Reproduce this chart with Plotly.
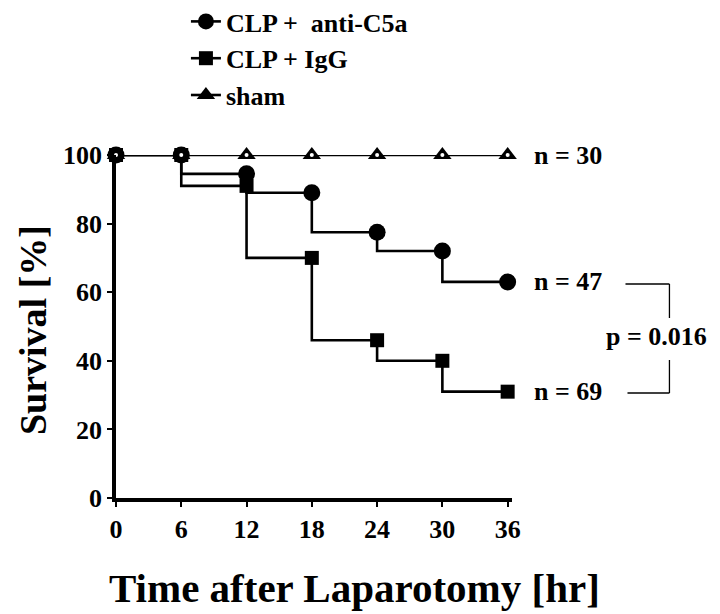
import plotly.graph_objects as go

# ---- data ----
time_hr = [0, 6, 12, 18, 24, 30, 36]
# survival shown by the markers at each time point (value just before any drop)
anti_c5a = [100, 100, 94.5, 89, 77.5, 72, 63]
igg = [100, 100, 91, 70, 46, 40, 31]
sham = [100, 100, 100, 100, 100, 100, 100]
series_names = ["CLP +  anti-C5a", "CLP + IgG", "sham"]
n_labels = ["n = 47", "n = 69", "n = 30"]
p_label = "p = 0.016"
x_ticks = [0, 6, 12, 18, 24, 30, 36]
y_ticks = [0, 20, 40, 60, 80, 100]
x_title = "Time after Laparotomy [hr]"
y_title = "Survival [%]"

FONT = "Liberation Serif"
BLACK = "black"

# the page body adds an 8px offset; the figure is sized to fill the rest of the window
OFF = 8
FIG_W, FIG_H = 720 - OFF, 614 - OFF
L, PW, T, PH = 116, 396.4, 155, 343.0  # plot area in window pixels
B = T + PH


def step_values(marker_vals):
    # value after the drop at each time point
    return marker_vals[1:] + [marker_vals[-1]]


def px(xp):
    return (xp - L) / PW


def py(yp):
    return (B - yp) / PH


styles = [
    dict(symbol="circle", size=17, color=BLACK, line=dict(color=BLACK, width=0)),
    dict(symbol="square", size=14, color=BLACK, line=dict(color=BLACK, width=0)),
    dict(symbol="triangle-up", size=16, color=BLACK, line=dict(color=BLACK, width=0)),
]
all_series = [anti_c5a, igg, sham]

fig = go.Figure()
for vals, name, st in zip(all_series, series_names, styles):
    fig.add_trace(go.Scatter(
        x=time_hr, y=step_values(vals), mode="lines", line_shape="hv",
        line=dict(color=BLACK, width=2.6), showlegend=False, hoverinfo="skip",
        cliponaxis=False))
for vals, name, st in zip(all_series, series_names, styles):
    fig.add_trace(go.Scatter(
        x=time_hr, y=vals, mode="markers", marker=st, showlegend=False,
        cliponaxis=False, name=name))
# white centre dot of the sham triangles
fig.add_trace(go.Scatter(
    x=time_hr, y=sham, mode="markers", showlegend=False, cliponaxis=False,
    marker=dict(symbol="circle", size=4, color="white"), hoverinfo="skip"))
for name, st in zip(series_names, styles):
    fig.add_trace(go.Scatter(
        x=[None], y=[None], mode="lines+markers", name=name,
        line=dict(color=BLACK, width=2.6), marker=st))

# n labels at the final value of each series
for vals, lab in zip(all_series, n_labels):
    fig.add_annotation(x=time_hr[-1], y=vals[-1], xref="x", yref="y", text=lab,
                       showarrow=False, xanchor="left", xshift=24,
                       font=dict(family=FONT, size=26, color=BLACK, weight="bold"))

# p-value bracket between anti-C5a and IgG
y_top = py(284)
y_bot = py(393)
fig.add_annotation(x=px(657), y=(anti_c5a[-1] + igg[-1]) / 2, xref="paper", yref="y",
                   text=p_label, showarrow=False, xanchor="center", yanchor="middle",
                   font=dict(family=FONT, size=26, color=BLACK, weight="bold"))
bracket = [
    (px(626), y_top, px(670), y_top),
    (px(670), y_top, px(670), py(318)),
    (px(670), py(360), px(670), y_bot),
    (px(628), y_bot, px(670), y_bot),
]
for x0, y0, x1, y1 in bracket:
    fig.add_shape(type="line", xref="paper", yref="paper", x0=x0, y0=y0, x1=x1, y1=y1,
                  line=dict(color=BLACK, width=1.3))

# axis titles
fig.add_annotation(x=px(355), y=py(588), xref="paper", yref="paper", text=x_title,
                   showarrow=False, xanchor="center", yanchor="middle",
                   font=dict(family=FONT, size=41, color=BLACK, weight="bold"))
fig.add_annotation(x=px(33), y=py(330), xref="paper", yref="paper", text=y_title,
                   showarrow=False, xanchor="center", yanchor="middle", textangle=-90,
                   font=dict(family=FONT, size=38, color=BLACK, weight="bold"))

fig.update_layout(
    width=FIG_W, height=FIG_H,
    paper_bgcolor="white", plot_bgcolor="white",
    margin=dict(l=L - OFF, r=FIG_W - (L - OFF) - PW, t=T - OFF,
                b=FIG_H - (T - OFF) - PH, autoexpand=False),
    font=dict(family=FONT, color=BLACK, weight="bold"),
    legend=dict(xref="paper", yref="paper",
                x=px(186), y=py(-2),
                xanchor="left", yanchor="top",
                font=dict(family=FONT, size=26, color=BLACK, weight="bold"),
                bgcolor="rgba(0,0,0,0)", tracegroupgap=0, itemsizing="trace"),
)
fig.update_xaxes(
    range=[0, 36.4], tickvals=x_ticks, ticktext=[str(v) for v in x_ticks],
    showline=True, linewidth=3.5, linecolor=BLACK, ticks="outside", ticklen=5,
    tickwidth=2, tickcolor=BLACK, showgrid=False, zeroline=False, automargin=False,
    tickfont=dict(family=FONT, size=26, color=BLACK, weight="bold"),
)
fig.update_yaxes(
    range=[0, 100], tickvals=y_ticks, ticktext=[str(v) for v in y_ticks],
    showline=True, linewidth=3.5, linecolor=BLACK, ticks="outside", ticklen=5,
    tickwidth=2, tickcolor=BLACK, showgrid=False, zeroline=False, automargin=False,
    tickfont=dict(family=FONT, size=26, color=BLACK, weight="bold"),
)

fig.write_html("out.html")
